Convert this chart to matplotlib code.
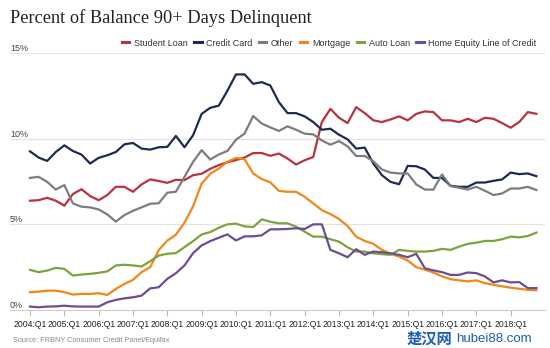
import matplotlib
matplotlib.use("Agg")
import matplotlib.pyplot as plt
import matplotlib.transforms as mtransforms

# ---- data (percent of balance 90+ days delinquent), 2004:Q1 .. 2018:Q4 ----
quarters = [f"{y}:Q{q}" for y in range(2004, 2019) for q in range(1, 5)]
tick_labels = [f"{y}:Q1" for y in range(2004, 2019)]

student_loan = [6.38, 6.41, 6.55, 6.38, 6.09, 6.77, 7.05, 6.65, 6.41, 6.71,
                7.19, 7.19, 6.90, 7.33, 7.62, 7.53, 7.42, 7.60, 7.58, 7.87,
                7.95, 8.24, 8.46, 8.62, 8.75, 8.90, 9.16, 9.16, 9.00, 9.13,
                8.84, 8.49, 8.74, 8.93, 10.97, 11.74, 11.22, 10.91, 11.84, 11.49,
                11.07, 10.97, 11.12, 11.30, 11.07, 11.45, 11.59, 11.55, 11.07, 11.07,
                10.97, 11.16, 10.97, 11.22, 11.16, 10.91, 10.64, 10.97, 11.55, 11.45]
credit_card = [9.26, 8.90, 8.70, 9.22, 9.61, 9.28, 9.07, 8.55, 8.88, 9.03,
               9.22, 9.67, 9.75, 9.42, 9.36, 9.50, 9.52, 10.16, 9.50, 10.20,
               11.45, 11.80, 11.93, 12.80, 13.75, 13.75, 13.20, 13.30, 13.10, 12.13,
               11.49, 11.49, 11.30, 10.97, 10.52, 10.58, 10.23, 9.96, 9.42, 9.48,
               8.55, 7.87, 7.48, 7.34, 8.41, 8.39, 8.20, 7.71, 7.71, 7.25,
               7.19, 7.19, 7.44, 7.44, 7.54, 7.62, 8.02, 7.93, 7.97, 7.81]
other = [7.71, 7.77, 7.48, 7.03, 7.29, 6.22, 6.03, 5.99, 5.87, 5.58,
         5.16, 5.54, 5.79, 5.99, 6.20, 6.23, 6.85, 6.90, 7.77, 8.65,
         9.33, 8.78, 9.08, 9.28, 9.94, 10.30, 11.32, 10.88, 10.66, 10.45,
         10.72, 10.52, 10.29, 10.25, 9.90, 9.65, 9.86, 9.55, 8.99, 8.99,
         8.68, 8.20, 8.02, 7.97, 7.97, 7.33, 7.03, 7.03, 7.91, 7.23,
         7.13, 7.03, 7.19, 6.96, 6.71, 6.80, 7.09, 7.09, 7.19, 7.00]
mortgage = [1.04, 1.07, 1.13, 1.13, 1.04, 0.90, 0.94, 0.94, 0.98, 0.88,
            1.23, 1.52, 1.76, 2.21, 2.50, 3.50, 4.05, 4.40, 5.10, 6.05,
            7.38, 7.95, 8.26, 8.65, 8.88, 8.80, 7.97, 7.64, 7.45, 6.95,
            6.90, 6.90, 6.61, 6.22, 5.83, 5.60, 5.31, 4.90, 4.28, 4.03,
            3.86, 3.51, 3.28, 3.12, 2.89, 2.50, 2.35, 2.19, 1.96, 1.80,
            1.73, 1.67, 1.73, 1.57, 1.47, 1.38, 1.30, 1.24, 1.18, 1.15]
auto_loan = [2.34, 2.21, 2.30, 2.46, 2.40, 2.01, 2.07, 2.11, 2.17, 2.25,
             2.60, 2.64, 2.60, 2.54, 2.85, 3.18, 3.28, 3.32, 3.67, 4.02,
             4.41, 4.55, 4.80, 5.00, 5.04, 4.88, 4.84, 5.29, 5.15, 5.06,
             5.06, 4.86, 4.57, 4.28, 4.28, 4.13, 3.99, 3.66, 3.41, 3.41,
             3.31, 3.26, 3.22, 3.51, 3.45, 3.41, 3.41, 3.45, 3.57, 3.51,
             3.70, 3.86, 3.93, 4.03, 4.03, 4.13, 4.28, 4.24, 4.32, 4.52]
heloc = [0.20, 0.16, 0.20, 0.21, 0.25, 0.21, 0.20, 0.20, 0.20, 0.45,
         0.59, 0.68, 0.74, 0.84, 1.26, 1.33, 1.82, 2.15, 2.60, 3.32,
         3.77, 4.02, 4.22, 4.41, 4.06, 4.30, 4.30, 4.36, 4.71, 4.71,
         4.73, 4.77, 4.73, 5.00, 5.00, 3.51, 3.31, 3.08, 3.55, 3.22,
         3.41, 3.37, 3.31, 3.22, 3.08, 3.28, 2.44, 2.31, 2.21, 2.05,
         2.05, 2.19, 2.15, 1.96, 1.61, 1.73, 1.61, 1.63, 1.28, 1.28]

series_names = ["Student Loan", "Credit Card", "Other", "Mortgage", "Auto Loan",
                "Home Equity Line of Credit"]
series_values = [student_loan, credit_card, other, mortgage, auto_loan, heloc]
series_colors = ["#b8333d", "#1c2b52", "#7d7d7d", "#f0871a", "#7ea33c", "#6b4e94"]
y_ticks = [0, 5, 10, 15]

plt.rcParams["font.family"] = ["Liberation Sans", "DejaVu Sans"]

fig = plt.figure(figsize=(5.5, 3.48), dpi=100)
ax = fig.add_axes([10 / 550, 38 / 348, 535 / 550, 257 / 348])

x = list(range(len(quarters)))
for name, vals, col in zip(series_names, series_values, series_colors):
    ax.plot(x, vals, color=col, lw=1.6, label=name, solid_joinstyle="round")

ax.set_xlim(-2.33, 60.0)
ax.set_ylim(0, 15)

# gridlines and y labels (labels sit above their gridline)
for v in y_ticks[1:]:
    ax.axhline(v, color="#e2e2e2", lw=0.8, zorder=0)
trans = mtransforms.blended_transform_factory(ax.transAxes, ax.transData)
for v in y_ticks:
    ax.text(0.0, v, f"{v}%", transform=trans, ha="left", va="bottom",
            fontsize=6.5, color="#444444")
ax.set_yticks([])

tick_pos = [quarters.index(t) for t in tick_labels]
ax.set_xticks(tick_pos)
ax.set_xticklabels(tick_labels, fontsize=6.2, color="#222222")
ax.tick_params(axis="x", length=4, color="#bbbbbb", pad=3)

for s in ["top", "right", "left"]:
    ax.spines[s].set_visible(False)
ax.spines["bottom"].set_color("#cccccc")
ax.spines["bottom"].set_linewidth(0.8)

fig.text(10 / 550, 1 - 18 / 348, "Percent of Balance 90+ Days Delinquent",
         fontsize=13.2, family=["Liberation Serif", "DejaVu Serif"],
         color="#222222", va="center", ha="left")

leg = fig.legend(loc="center right", bbox_to_anchor=(541 / 550, 1 - 43 / 348),
                 ncol=6, frameon=False, fontsize=6.5, handlelength=0.8,
                 handletextpad=0.5, columnspacing=0.75, borderpad=0)
for line in leg.get_lines():
    line.set_linewidth(2.2)
for t in leg.get_texts():
    t.set_color("#333333")

fig.text(13 / 550, 1 - 340 / 348, "Source: FRBNY Consumer Credit Panel/Equifax",
         fontsize=5.3, color="#888888", va="center", ha="left")

# watermark present in the reference image (kept clear of the tick labels)
fig.text(452 / 550, 1 - 339 / 348, "楚汉网", fontsize=11, fontweight="bold",
         color="#1a5fb4", family=["Noto Sans CJK SC", "DejaVu Sans"],
         va="center", ha="right")
fig.text(456 / 550, 1 - 339 / 348, "hubei88.com", fontsize=9.5,
         color="#1a5fb4", va="center", ha="left")

fig.savefig("out.png", dpi=100)
